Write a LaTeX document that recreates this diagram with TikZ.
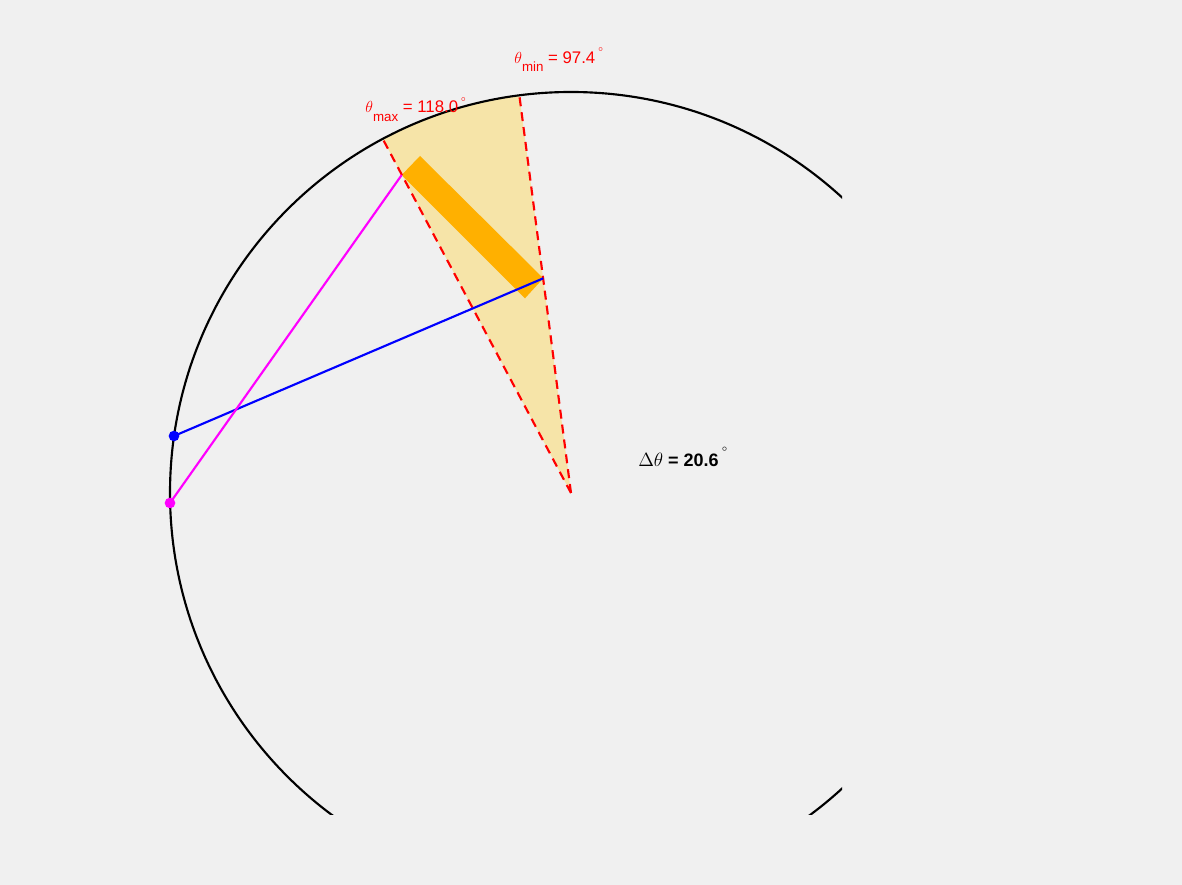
\documentclass[tikz,border=0pt]{standalone}
\usepackage{fontspec}
\setmainfont{Liberation Sans}
\usetikzlibrary{calc}
\definecolor{bg}{RGB}{240,240,240}
\definecolor{wedgecol}{RGB}{246,228,168}
\definecolor{barcol}{RGB}{255,176,0}
\definecolor{rayblue}{RGB}{0,0,255}
\definecolor{raymag}{RGB}{255,0,255}
\definecolor{lblred}{RGB}{255,0,0}
\newcommand{\degmark}[1]{\raisebox{#1}{$^{\scriptscriptstyle\circ}$}}
\tikzset{
  lbl/.style={anchor=base west, inner sep=0pt, font=\fontsize{12.6}{14}\selectfont},
  raybound/.style={lblred, line width=1.6pt, dash pattern=on 6.75pt off 4.5pt},
  ray/.style={line width=1.6pt},
  dotmark/.style={circle, inner sep=0pt, minimum size=8pt},
}
\begin{document}
\begin{tikzpicture}[x=0.75pt,y=0.75pt]
\fill[bg] (0,0) rectangle (1182,885);
\useasboundingbox (0,0) rectangle (1182,885);
\coordinate (C) at (571,392);
\coordinate (Tmin) at ([shift={(C)}]97.4:401);
\coordinate (Tmax) at ([shift={(C)}]118:401);
\fill[wedgecol] (C) -- (Tmin) arc[start angle=97.4,end angle=118,radius=401] -- cycle;
\coordinate (BA) at (420,729);
\coordinate (BB) at (401.7,710);
\coordinate (BC) at (525,586.7);
\coordinate (BD) at (543.3,606.7);
\fill[barcol] (BA) -- (BB) -- (BC) -- (BD) -- cycle;
\draw[raybound] (C) -- (Tmin);
\draw[raybound] (C) -- (Tmax);
\begin{scope}
  \clip (0,70) rectangle (842,885);
  \draw[line width=1.6pt] (C) circle[radius=401];
\end{scope}
\node[dotmark, fill=rayblue] (P1) at (174,449) {};
\node[dotmark, fill=raymag] (P2) at (170,382) {};
\draw[ray, rayblue] (P1.center) -- (BD);
\draw[ray, raymag] (P2.center) -- (BB);
\node[lbl, lblred] (lmin) at (514,821.7) {$\theta$\raisebox{-6.3pt}{\fontsize{10}{12}\selectfont min} = 97.4\,\degmark{0.35em}};
\node[lbl, lblred] (lmax) at (365,772) {$\theta$\raisebox{-6.3pt}{\fontsize{10}{12}\selectfont max} = 118.0\,\degmark{0.35em}};
\node[lbl, font=\bfseries\fontsize{13.5}{16}\selectfont] (ldelta) at (638,418) {$\Delta\theta$ = 20.6\,\degmark{0.5em}};
\end{tikzpicture}
\end{document}
